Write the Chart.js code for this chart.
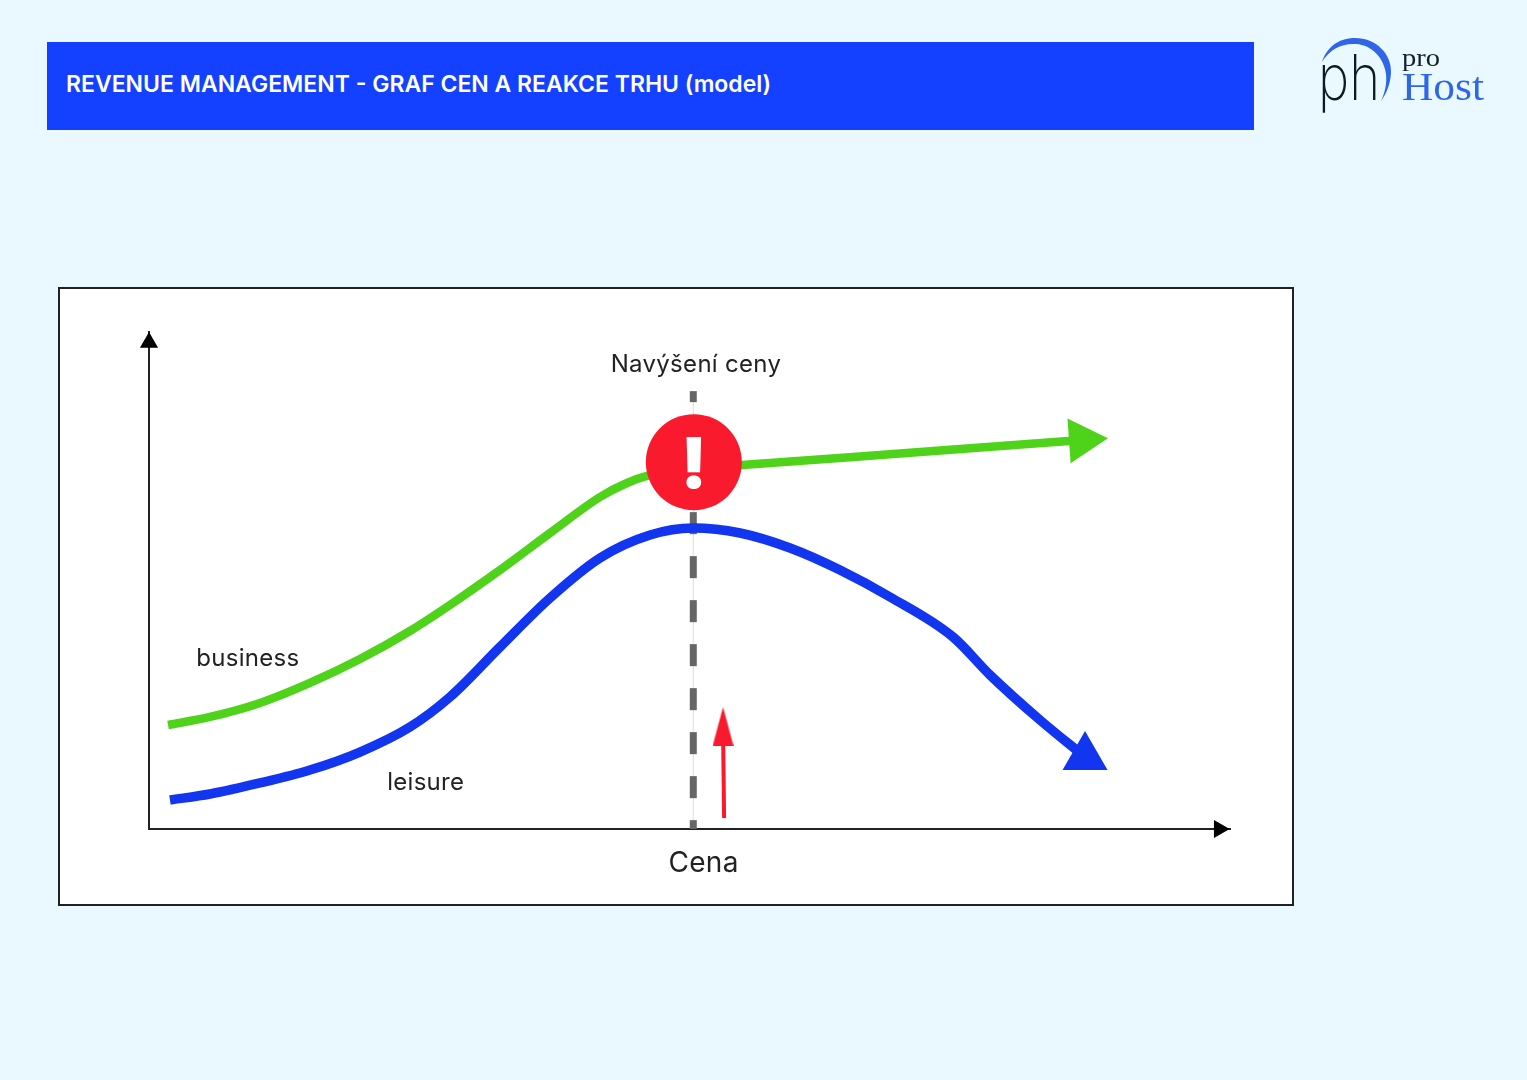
<!DOCTYPE html>
<html lang="cs">
<head>
<meta charset="utf-8">
<title>Revenue management</title>
<style>
  html, body { margin: 0; padding: 0; }
  body { width: 1527px; height: 1080px; background: #e9f9ff; position: relative; overflow: hidden; font-family: Inter, sans-serif; }
  .header { position: absolute; left: 47px; top: 42px; width: 1207px; height: 88px; background: #1440ff; color: #fff; }
  .header span { position: absolute; left: 19px; top: 27px; font-size: 23px; line-height: 30px; font-weight: 600; white-space: nowrap; }
  .box { position: absolute; left: 58px; top: 287px; width: 1232px; height: 615px; background: #fff; border: 2px solid #222; }
  #chart { position: absolute; left: 0; top: 0; }
  .logo { position: absolute; left: 1300px; top: 20px; width: 220px; height: 110px; }
</style>
</head>
<body>
<div class="header"><span>REVENUE MANAGEMENT - GRAF CEN A REAKCE TRHU (model)</span></div>
<div class="box"></div>
<canvas id="chart" width="1527" height="1080"></canvas>
<svg class="logo" viewBox="1300 20 220 110" width="220" height="110">
  <path d="M1322 62 C1328 44 1342 38 1355 38 C1376 38 1392 54 1391 73 C1390 86 1386 94 1381 101 C1385 92 1387 84 1386 74 C1384 58 1372 45 1356 44 C1342 43 1330 49 1322 62 Z" fill="#2f66e8"/>
  <text x="1318" y="100" font-family="Inter" font-weight="200" font-size="63" fill="#0d1a24" textLength="62" lengthAdjust="spacingAndGlyphs">ph</text>
  <text x="1402" y="66" font-family="Liberation Serif" font-size="25" fill="#16202c" textLength="38" lengthAdjust="spacingAndGlyphs">pro</text>
  <text x="1402" y="100" font-family="Liberation Serif" font-size="39" fill="#2f66e8" textLength="82" lengthAdjust="spacingAndGlyphs">Host</text>
</svg>
<script src="https://cdn.jsdelivr.net/npm/chart.js@4"></script>
<script>
// model values, both axes run 0-100
const businessX = [1.76, 5.64, 10.27, 14.89, 19.52, 24.14, 27.84, 32.47, 37.1, 41.72, 44.22, 46.07, 50.42, 54.86, 69.47, 86.31];
const businessY = [20.93, 22.54, 25.35, 29.38, 34.2, 39.84, 45.07, 52.11, 59.56, 66.8, 69.62, 71.03, 72.64, 73.24, 75.55, 78.27];

const leisureX = [1.94, 5.64, 10.27, 14.89, 19.52, 24.14, 27.84, 32.47, 37.1, 41.72, 46.35, 50.32, 54.67, 59.3, 63.92, 68.55, 74.38, 77.8, 82.42, 86.59];
const leisureY = [5.84, 7.04, 9.26, 11.87, 15.49, 20.52, 26.56, 36.62, 46.48, 54.53, 59.15, 60.56, 59.56, 56.54, 52.11, 46.68, 38.63, 30.99, 21.93, 14.49];

const priceRiseX = [50.35, 50.35];
const priceRiseY = [0, 88.1];

const alertX = [50.4];
const alertY = [73.8];

const riseArrowX = [53.2, 53.1];
const riseArrowY = [2.2, 20.6];

const axisTipX = [99];
const axisTipY = [0];
const axisTopX = [0];
const axisTopY = [97.9];

const labels = [
  { text: "Navýšení ceny", x: 50.6, y: 93.4, size: 24 },
  { text: "business", x: 9.15, y: 34.2, size: 24 },
  { text: "leisure", x: 25.6, y: 9.4, size: 24 },
  { text: "Cena", x: 51.3, y: -7, size: 28 },
];

const zip = (xs, ys) => xs.map((x, i) => ({ x, y: ys[i] }));

// narrow head for the small red arrow, the built in triangle is equilateral
function headImage(w, h, color) {
  const c = document.createElement("canvas");
  c.width = w;
  c.height = h;
  const g = c.getContext("2d");
  g.fillStyle = color;
  g.beginPath();
  g.moveTo(w / 2, 0);
  g.lineTo(w, h);
  g.lineTo(0, h);
  g.closePath();
  g.fill();
  return c;
}

function lastPointOnly(size) {
  return (ctx) => (ctx.dataIndex === ctx.dataset.data.length - 1 ? size : 0);
}

const textLabels = {
  id: "textLabels",
  afterDatasetsDraw(chart) {
    const { ctx, scales } = chart;
    ctx.save();
    ctx.textAlign = "center";
    ctx.textBaseline = "middle";
    ctx.fillStyle = "#222";
    ctx.letterSpacing = "0.3px";
    labels.forEach((l) => {
      ctx.font = `400 ${l.size}px Inter, sans-serif`;
      ctx.fillText(l.text, scales.x.getPixelForValue(l.x), scales.y.getPixelForValue(l.y));
    });
    ctx.letterSpacing = "0px";
    ctx.fillStyle = "#fff";
    ctx.font = "900 70px Inter, sans-serif";
    ctx.fillText("!", scales.x.getPixelForValue(alertX[0]), scales.y.getPixelForValue(alertY[0]) + 5);
    ctx.restore();
  },
};

new Chart(document.getElementById("chart"), {
  type: "scatter",
  data: {
    datasets: [
      {
        data: zip(alertX, alertY),
        pointRadius: 48,
        pointBackgroundColor: "#fa1a2e",
        pointBorderWidth: 0,
        order: 0,
      },
      {
        label: "business",
        data: zip(businessX, businessY),
        showLine: true,
        cubicInterpolationMode: "monotone",
        borderColor: "#4fd21a",
        borderWidth: 8.5,
        pointStyle: "triangle",
        pointRotation: 86,
        pointRadius: lastPointOnly(26),
        pointBackgroundColor: "#4fd21a",
        pointBorderWidth: 0,
        order: 1,
      },
      {
        label: "leisure",
        data: zip(leisureX, leisureY),
        showLine: true,
        cubicInterpolationMode: "monotone",
        borderColor: "#1236f0",
        borderWidth: 9.5,
        pointStyle: "triangle",
        pointRadius: lastPointOnly(26),
        pointBackgroundColor: "#1236f0",
        pointBorderWidth: 0,
        order: 2,
      },
      {
        data: zip(riseArrowX, riseArrowY),
        showLine: true,
        borderColor: "#fa1a2e",
        borderWidth: 4,
        pointStyle: headImage(21, 39, "#fa1a2e"),
        pointRadius: lastPointOnly(20),
        order: 3,
      },
      {
        data: zip(priceRiseX, priceRiseY.slice().reverse()),
        showLine: true,
        borderColor: "#666",
        borderWidth: 7,
        borderDash: [22, 22],
        borderDashOffset: 11,
        pointRadius: 0,
        order: 4,
      },
      {
        data: zip(priceRiseX, priceRiseY),
        showLine: true,
        borderColor: "#ddd",
        borderWidth: 1,
        pointRadius: 0,
        order: 5,
      },
      {
        data: zip(axisTipX, axisTipY),
        pointStyle: "triangle",
        pointRotation: 90,
        pointRadius: 10.5,
        pointBackgroundColor: "#000",
        pointBorderWidth: 0,
        clip: false,
        order: 6,
      },
      {
        data: zip(axisTopX, axisTopY),
        pointStyle: "triangle",
        pointRadius: 10.5,
        pointBackgroundColor: "#000",
        pointBorderWidth: 0,
        clip: false,
        order: 6,
      },
    ],
  },
  options: {
    responsive: false,
    animation: false,
    events: [],
    layout: { padding: { left: 149, top: 332, right: 297, bottom: 251 } },
    plugins: { legend: { display: false }, tooltip: { enabled: false } },
    scales: {
      x: {
        type: "linear",
        min: 0,
        max: 100,
        grid: { display: false, drawTicks: false },
        border: { color: "#222", width: 2 },
        ticks: { display: false },
      },
      y: {
        type: "linear",
        min: 0,
        max: 100,
        grid: { display: false, drawTicks: false },
        border: { color: "#222", width: 2 },
        ticks: { display: false },
      },
    },
  },
  plugins: [textLabels],
});
</script>
</body>
</html>
